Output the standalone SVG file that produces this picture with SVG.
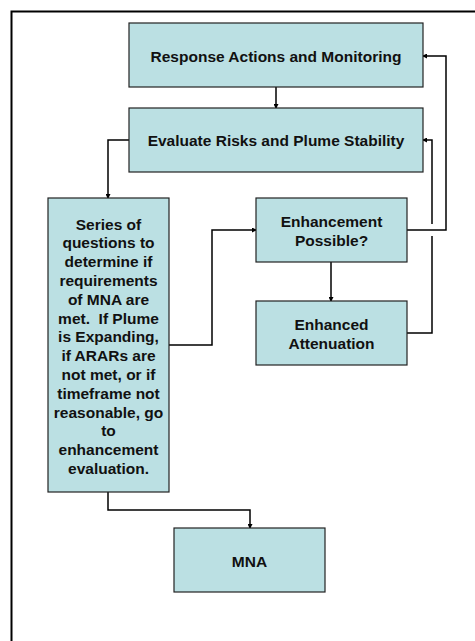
<svg xmlns="http://www.w3.org/2000/svg" width="475" height="641" viewBox="0 0 475 641">
<style>
.box{fill:#bbe0e3;stroke:#222;stroke-width:1.2}
.t{font-family:"Liberation Sans",Arial,sans-serif;font-weight:bold;font-size:15.5px;fill:#111;text-anchor:middle}
.c{fill:none;stroke:#000;stroke-width:1.5}
</style>
<defs>
<marker id="a" markerWidth="5" markerHeight="5" refX="4" refY="2.5" orient="auto" markerUnits="userSpaceOnUse">
<path d="M0,0 L5,2.5 L0,5 Z" fill="#000"/>
</marker>
</defs>
<rect x="11.5" y="11.5" width="480" height="650" fill="none" stroke="#000" stroke-width="2"/>
<g id="connectors">
<path class="c" d="M276,87 V108" marker-end="url(#a)"/>
<path class="c" d="M129,140 H108 V198" marker-end="url(#a)"/>
<path class="c" d="M169,345 H212 V230 H256" marker-end="url(#a)"/>
<path class="c" d="M407,230 H446 V56 H423" marker-end="url(#a)"/>
<path class="c" d="M407,333 H432 V236 M432,224 V140 H423" marker-end="url(#a)"/>
<path class="c" d="M331,262 V301" marker-end="url(#a)"/>
<path class="c" d="M108,492 V510 H250 V528" marker-end="url(#a)"/>
</g>
<g id="n1"><rect class="box" x="129" y="23" width="294" height="64"/><text class="t" x="276" y="61.5">Response Actions and Monitoring</text></g>
<g id="n2"><rect class="box" x="129" y="108" width="294" height="64"/><text class="t" x="276" y="146">Evaluate Risks and Plume Stability</text></g>
<g id="n3"><rect class="box" x="48" y="198" width="121" height="294"/>
<text class="t" x="108.5" y="229.5">Series of<tspan x="108.5" dy="18.8">questions to</tspan><tspan x="108.5" dy="18.8">determine if</tspan><tspan x="108.5" dy="18.8">requirements</tspan><tspan x="108.5" dy="18.8">of MNA are</tspan><tspan x="108.5" dy="18.8">met.&#160; If Plume</tspan><tspan x="108.5" dy="18.8">is Expanding,</tspan><tspan x="108.5" dy="18.8">if ARARs are</tspan><tspan x="108.5" dy="18.8">not met, or if</tspan><tspan x="108.5" dy="18.8">timeframe not</tspan><tspan x="108.5" dy="18.8">reasonable, go</tspan><tspan x="108.5" dy="18.8">to</tspan><tspan x="108.5" dy="18.8">enhancement</tspan><tspan x="108.5" dy="18.8">evaluation.</tspan></text></g>
<g id="n4"><rect class="box" x="256" y="198" width="151" height="64"/><text class="t" x="331.5" y="227">Enhancement<tspan x="331.5" dy="18.5">Possible?</tspan></text></g>
<g id="n5"><rect class="box" x="256" y="301" width="151" height="64"/><text class="t" x="331.5" y="330">Enhanced<tspan x="331.5" dy="18.5">Attenuation</tspan></text></g>
<g id="n6"><rect class="box" x="174" y="528" width="151" height="64"/><text class="t" x="249.5" y="566.5">MNA</text></g>
</svg>
